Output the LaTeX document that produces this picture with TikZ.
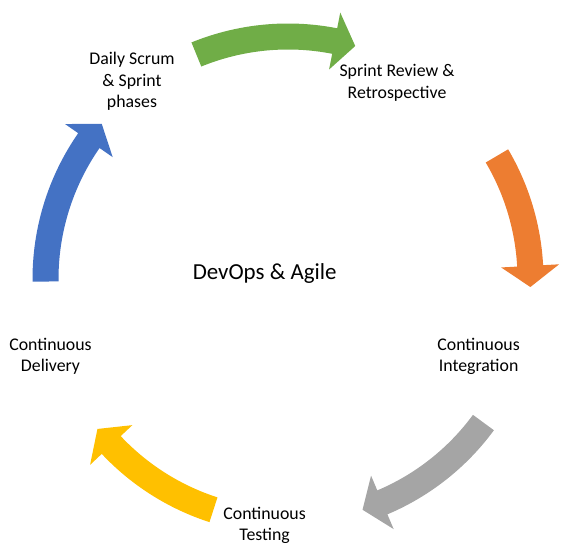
\documentclass[tikz,border=0pt]{standalone}
\usepackage{fontspec}
\setmainfont{Carlito}
\definecolor{cycblue}{HTML}{4472C4}
\definecolor{cycgreen}{HTML}{70AD47}
\definecolor{cycorange}{HTML}{ED7D31}
\definecolor{cycgray}{HTML}{A5A5A5}
\definecolor{cycyellow}{HTML}{FFC000}
% curved block arrow on the cycle: colour, tail angle, tip angle (clockwise)
\newcommand\drawcyclearrow[3]{%
  \pgfmathsetmacro\headbase{#3+5}%
  \fill[#1, shift={(c)}] (#2:255.5) arc[start angle=#2, end angle=\headbase, radius=255.5]
    -- (\headbase:271.5) -- (#3:242.5) -- (\headbase:213.5) -- (\headbase:229.5)
    arc[start angle=\headbase, end angle=#2, radius=229.5] -- cycle;
}
\begin{document}
\begin{tikzpicture}[x=0.75pt,y=0.75pt,
  steplabel/.style={font=\fontsize{13.35pt}{16.2pt}\selectfont, align=center,
    inner sep=0pt, anchor=base, text=black},
  hublabel/.style={font=\fontsize{17.2pt}{20.6pt}\selectfont, inner sep=0pt,
    anchor=base, text=black}]
\useasboundingbox (0,0) rectangle (569,543);
\coordinate (c) at (288,264);

\drawcyclearrow{cycblue}{180.6}{140.2}
\drawcyclearrow{cycgreen}{112.2}{73.9}
\drawcyclearrow{cycorange}{30.5}{-1.9}
\drawcyclearrow{cycgray}{-36.3}{-72.1}
\drawcyclearrow{cycyellow}{252.1}{218.2}

% labels are placed by the baseline of their last line
\node[steplabel] (scrum) at (132,435) {Daily Scrum\\\& Sprint\\phases};
\node[steplabel] (review) at (397,444.7) {Sprint Review \&\\Retrospective};
\node[steplabel] (integ) at (478.6,171.3) {Continuous\\Integration};
\node[steplabel] (testing) at (264.6,2) {Continuous\\Testing};
\node[steplabel] (deliv) at (50.5,171.3) {Continuous\\Delivery};
\node[hublabel] (hub) at (264.7,263.7) {DevOps \& Agile};
\end{tikzpicture}
\end{document}
